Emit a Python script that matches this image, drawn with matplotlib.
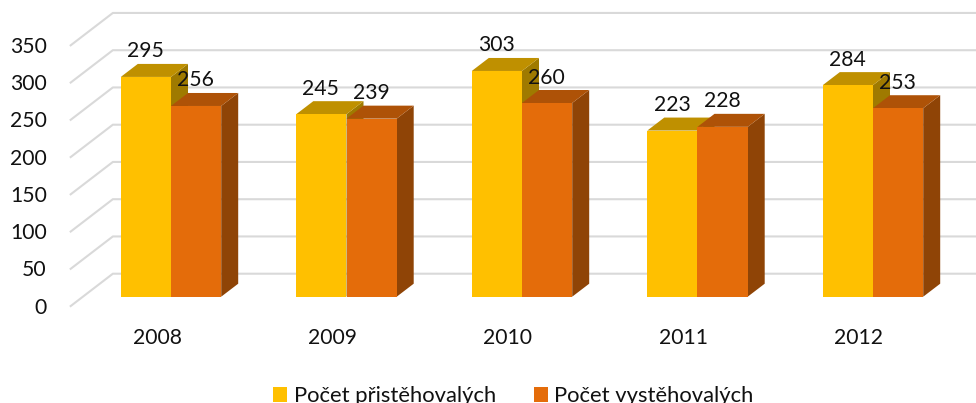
from matplotlib import pyplot as plt
from matplotlib.patches import Patch, Polygon

years = ['2008', '2009', '2010', '2011', '2012']
prist = [295, 245, 303, 223, 284]
vyst = [256, 239, 260, 228, 253]
grid_values = [0, 50, 100, 150, 200, 250, 300, 350]
series_names = ['Počet přistěhovalých', 'Počet vystěhovalých']

plt.rcParams['font.family'] = ['Lato', 'DejaVu Sans']
FS = 15.2
TXT = '#111111'

# scale of the picture: one category = 175.5 px, one unit of value = 0.745 px
W, H = 976, 403
PX_X = 175.5
PX_Y = 0.745
X0_PX = 171
Y0_PX = 296.7


def dx(px):
    return px / PX_X


def dy(px):
    return px / PX_Y


fig = plt.figure(figsize=(W / 100, H / 100), dpi=100)
ax = fig.add_axes([0, 0, 1, 1])
ax.set_xlim(-X0_PX / PX_X, (W - X0_PX) / PX_X)
ax.set_ylim(-(H - Y0_PX) / PX_Y, Y0_PX / PX_Y)
ax.axis('off')

# gridlines: short slanted piece on the left wall, then along the back wall
for v in grid_values:
    xs = [-0.5 - dx(13.4), -0.5 + dx(29.6), ax.get_xlim()[1]]
    ys = [v - dy(10), v + dy(23), v + dy(23)]
    ax.plot(xs, ys, color='#D9D9D9', lw=1.5, zorder=1, solid_capstyle='butt')
    ax.annotate(str(v), xy=(xs[0], ys[0]), xytext=(-23, -1), textcoords='offset pixels',
                ha='right', va='center', fontsize=FS, color=TXT, zorder=6)


def bar3d(left, value, front, top, side, z):
    # front face plus the top and side faces pushed back by the depth
    w = dx(50.2)
    ddx = dx(17)
    ddy = dy(13)
    ax.add_patch(Polygon([(left + w, 0), (left + w + ddx, ddy), (left + w + ddx, value + ddy),
                          (left + w, value)], fc=side, ec='none', zorder=z))
    ax.add_patch(Polygon([(left, value), (left + ddx, value + ddy), (left + w + ddx, value + ddy),
                          (left + w, value)], fc=top, ec='none', zorder=z))
    ax.bar(left, value, width=w, align='edge', color=front, zorder=z)


for i, year in enumerate(years):
    bar3d(i - dx(50.2), prist[i], '#FFC000', '#BF9000', '#9F7A00', 3 + i * 0.01)
    bar3d(i, vyst[i], '#E46C0A', '#AE5207', '#8F4406', 4 + i * 0.01)
    ax.annotate(str(prist[i]), xy=(i - dx(25.6), prist[i]), xytext=(0, 25.5),
                textcoords='offset pixels', ha='center', va='center', fontsize=FS,
                color=TXT, zorder=6)
    ax.annotate(str(vyst[i]), xy=(i + dx(24.6), vyst[i]), xytext=(0, 25.5),
                textcoords='offset pixels', ha='center', va='center', fontsize=FS,
                color=TXT, zorder=6)
    ax.annotate(year, xy=(i, 0), xytext=(-14, -41), textcoords='offset pixels',
                ha='center', va='center', fontsize=FS, color=TXT, zorder=6)

handles = [Patch(fc='#FFC000', ec='none', label=series_names[0]),
           Patch(fc='#E46C0A', ec='none', label=series_names[1])]
fig.legend(handles=handles, loc='lower center', bbox_to_anchor=(0.5262, -0.035), ncol=2,
           frameon=False, fontsize=15.8, handlelength=0.64, handleheight=0.64,
           handletextpad=0.28, columnspacing=1.75, borderpad=0, labelcolor=TXT)

fig.savefig('out.png', dpi=100)
